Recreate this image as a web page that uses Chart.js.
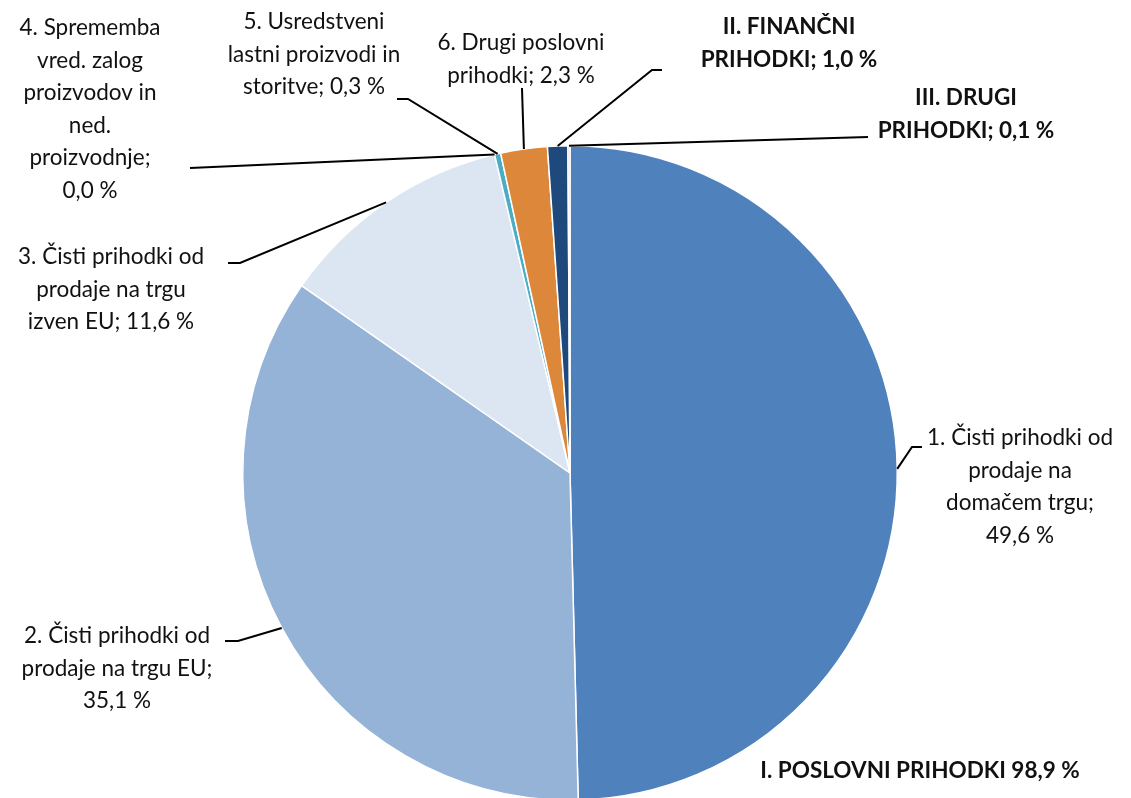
<!DOCTYPE html>
<html>
<head>
<meta charset="utf-8">
<script src="https://cdn.jsdelivr.net/npm/chart.js@4/dist/chart.umd.min.js"></script>
<style>
  html, body { margin: 0; padding: 0; background: #fff; overflow: hidden; }
  #wrap { width: 1131px; height: 804px; }
</style>
</head>
<body>
<div id="wrap"><canvas id="myChart" width="1131" height="804"></canvas></div>
<script>
// chart data
const categories = [
    '1. Čisti prihodki od prodaje na domačem trgu',
    '2. Čisti prihodki od prodaje na trgu EU',
    '3. Čisti prihodki od prodaje na trgu izven EU',
    '4. Sprememba vred. zalog proizvodov in ned. proizvodnje',
    '5. Usredstveni lastni proizvodi in storitve',
    '6. Drugi poslovni prihodki',
    'II. FINANČNI PRIHODKI',
    'III. DRUGI PRIHODKI'
];
const values = [49.6, 35.1, 11.6, 0.0, 0.3, 2.3, 1.0, 0.1];
const colors = ['#4F81BD', '#95B3D7', '#DCE6F2', '#B9CDE5', '#4BACC6', '#DD873B', '#1F497D', '#E6B9B8'];
const totalLabel = 'I. POSLOVNI PRIHODKI 98,9 %';

// how each label is broken into lines, {v} = value
const labelLines = [
    ['1. Čisti prihodki od', 'prodaje na', 'domačem trgu;', '{v}'],
    ['2. Čisti prihodki od', 'prodaje na trgu EU;', '{v}'],
    ['3. Čisti prihodki od', 'prodaje na trgu', 'izven EU; {v}'],
    ['4. Sprememba', 'vred. zalog', 'proizvodov in', 'ned.', 'proizvodnje;', '{v}'],
    ['5. Usredstveni', 'lastni proizvodi in', 'storitve; {v}'],
    ['6. Drugi poslovni', 'prihodki; {v}'],
    ['II. FINANČNI', 'PRIHODKI; {v}'],
    ['III. DRUGI', 'PRIHODKI; {v}']
];

// label placement: text centre x, first line y, leader path after the slice edge
const labelPos = [
    { cx: 1020, y: 438, bold: false, path: [[912, 447], [922, 447]] },
    { cx: 117, y: 636, bold: false, path: [[238, 641], [225, 641]] },
    { cx: 111, y: 257, bold: false, path: [[240, 263], [228, 263]] },
    { cx: 90, y: 28, bold: false, path: [[190, 168]] },
    { cx: 314, y: 22, bold: false, path: [[408, 99], [397, 99]] },
    { cx: 521, y: 43, bold: false, path: [[522, 88]] },
    { cx: 789, y: 27, bold: true, path: [[652, 70], [662, 70]] },
    { cx: 966, y: 98, bold: true, path: [[868, 137]] }
];

const FONT = 'Lato';
const FSIZE = 22.5;
const LINE_H = 32.5;

function fmt(v) {
    return v.toFixed(1).replace('.', ',') + ' %';
}

const leaderPlugin = {
    id: 'leaders',
    afterDatasetsDraw(chart) {
        const ctx = chart.ctx;
        const meta = chart.getDatasetMeta(0);
        ctx.save();
        meta.data.forEach((arc, i) => {
            const p = arc.getProps(['x', 'y', 'startAngle', 'endAngle', 'outerRadius'], true);
            const mid = (p.startAngle + p.endAngle) / 2;
            const ax = p.x + Math.cos(mid) * p.outerRadius;
            const ay = p.y + Math.sin(mid) * p.outerRadius;
            const L = labelPos[i];

            ctx.strokeStyle = '#000';
            ctx.lineWidth = 2;
            ctx.beginPath();
            ctx.moveTo(ax, ay);
            L.path.forEach(pt => ctx.lineTo(pt[0], pt[1]));
            ctx.stroke();

            ctx.fillStyle = '#111';
            ctx.font = (L.bold ? 'bold ' : '') + FSIZE + 'px ' + FONT;
            ctx.textAlign = 'center';
            ctx.textBaseline = 'middle';
            labelLines[i].forEach((line, k) => {
                ctx.fillText(line.replace('{v}', fmt(values[i])), L.cx, L.y + k * LINE_H);
            });
        });

        ctx.font = 'bold ' + FSIZE + 'px ' + FONT;
        ctx.textAlign = 'center';
        ctx.fillText(totalLabel, 920, 771);
        ctx.restore();
    }
};

const data = {
    labels: categories,
    datasets: [{
        data: values,
        backgroundColor: colors,
        borderColor: '#fff',
        borderWidth: 1.5
    }]
};

const config = {
    type: 'pie',
    data: data,
    options: {
        responsive: false,
        animation: false,
        layout: { padding: { left: 242, right: 233, top: 145, bottom: 3 } },
        plugins: {
            legend: { display: false },
            tooltip: { enabled: false }
        }
    },
    plugins: [leaderPlugin]
};

const myChart = new Chart(document.getElementById('myChart'), config);
</script>
</body>
</html>
